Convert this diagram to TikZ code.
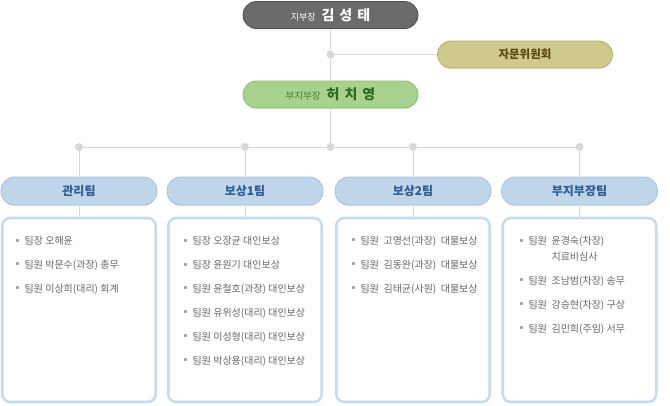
\documentclass[tikz,border=0pt]{standalone}
\usepackage{fontspec}
\setmainfont{Noto Sans CJK KR}
\usetikzlibrary{shadows}
\definecolor{linec}{HTML}{D8D8D8}
\definecolor{grayfill}{HTML}{6B6B6B}
\definecolor{graydraw}{HTML}{4E4E4E}
\definecolor{khakifill}{HTML}{CFC98B}
\definecolor{khakidraw}{HTML}{B5AE6C}
\definecolor{khakitext}{HTML}{5A4814}
\definecolor{greenfill}{HTML}{A8D08F}
\definecolor{greendraw}{HTML}{8DBB72}
\definecolor{greentext}{HTML}{2F6A1E}
\definecolor{greensmall}{HTML}{44802C}
\definecolor{teamfill}{HTML}{BED5EA}
\definecolor{teamdraw}{HTML}{A6C2DD}
\definecolor{teamtext}{HTML}{2E5C93}
\definecolor{boxc}{HTML}{C6DBEE}
\definecolor{itemc}{HTML}{666666}
\definecolor{bulc}{HTML}{AAAAAA}
\newcommand{\bul}{\textcolor{bulc}{\rule[2.8pt]{3pt}{3pt}}\hspace{5.5pt}}
\begin{document}
\begin{tikzpicture}[x=1pt,y=-1pt,
  pill/.style={rounded corners=13.5pt, minimum height=27pt, inner sep=0pt, line width=0.8pt,
     drop shadow={shadow xshift=0pt, shadow yshift=-1pt, opacity=0.18}},
  graypill/.style={pill, fill=grayfill, draw=graydraw, minimum width=175pt, text=white},
  khakipill/.style={pill, fill=khakifill, draw=khakidraw, minimum width=175pt, text=khakitext},
  greenpill/.style={pill, fill=greenfill, draw=greendraw, minimum width=175pt, text=greentext},
  teampill/.style={pill, fill=teamfill, draw=teamdraw, minimum width=156pt, minimum height=28pt,
     text=teamtext, font=\fontsize{12}{14}\selectfont\bfseries},
  teambox/.style={draw=boxc, line width=2.6pt, rounded corners=8pt, fill=white,
     minimum width=153.5pt, minimum height=184pt, inner sep=0pt},
  conn/.style={draw=linec, line width=1pt},
  dot/.style={fill=linec},
  item/.style={anchor=west, inner sep=0pt, text=itemc, font=\fontsize{10}{16}\selectfont, align=left}
]
\useasboundingbox (0,0) rectangle (670,405);

% top
\node[graypill] (jibu) at (330.5,15) {{\fontsize{9}{10}\selectfont 지부장}\hspace{6pt}{\fontsize{14}{16}\selectfont\bfseries 김\hspace{5pt}성\hspace{5pt}태}};
\node[khakipill] (jamun) at (525,54.5) {\fontsize{11.5}{13}\selectfont\bfseries 자문위원회};
\node[greenpill] (bubu) at (330.5,94.5) {{\fontsize{9.5}{10}\selectfont\color{greensmall} 부지부장}\hspace{6pt}{\fontsize{14}{16}\selectfont\bfseries 허\hspace{5pt}치\hspace{5pt}영}};

\coordinate (j1) at (330.5,54.5);
\coordinate (hub) at (330.5,147);

% teams
\node[teampill] (t1) at (79,191) {관리팀};
\node[teampill] (t2) at (245,191) {보상1팀};
\node[teampill] (t3) at (413,191) {보상2팀};
\node[teampill] (t4) at (579.5,191) {부지부장팀};

\node[teambox] (b1) at (79,310) {};
\node[teambox] (b2) at (245,310) {};
\node[teambox] (b3) at (413,310) {};
\node[teambox] (b4) at (579.5,310) {};

\coordinate (d1) at (t1 |- hub);
\coordinate (d2) at (t2 |- hub);
\coordinate (d3) at (t3 |- hub);
\coordinate (d4) at (t4 |- hub);

% connectors
\draw[conn] (jibu.south) -- (bubu.north);
\draw[conn] (j1) -- (jamun.west);
\draw[conn] (bubu.south) -- (hub);
\draw[conn] (d1) -- (d4);
\draw[conn] (d1) -- (t1.north);
\draw[conn] (d2) -- (t2.north);
\draw[conn] (d3) -- (t3.north);
\draw[conn] (d4) -- (t4.north);
\draw[conn] (t1.south) -- (b1.north);
\draw[conn] (t2.south) -- (b2.north);
\draw[conn] (t3.south) -- (b3.north);
\draw[conn] (t4.south) -- (b4.north);
\foreach \c in {j1,hub,d1,d2,d3,d4} \fill[dot] (\c) circle (4pt);

% items
\node[item] (a1) at (16,241) {\bul 팀장 오해윤};
\node[item] (a2) at (16,265) {\bul 팀원 박문수(과장) 총무};
\node[item] (a3) at (16,289) {\bul 팀원 이상희(대리) 회계};

\node[item] (c1) at (184,241) {\bul 팀장 오장균 대인보상};
\node[item] (c2) at (184,265) {\bul 팀장 윤원기 대인보상};
\node[item] (c3) at (184,289) {\bul 팀원 윤철호(과장) 대인보상};
\node[item] (c4) at (184,313) {\bul 팀원 유위성(대리) 대인보상};
\node[item] (c5) at (184,337) {\bul 팀원 이성형(대리) 대인보상};
\node[item] (c6) at (184,361) {\bul 팀원 박상용(대리) 대인보상};

\node[item] (e1) at (352,241) {\bul 팀원\ \ 고영선(과장)\ \ 대물보상};
\node[item] (e2) at (352,265) {\bul 팀원\ \ 김동완(과장)\ \ 대물보상};
\node[item] (e3) at (352,289) {\bul 팀원\ \ 김태균(사원)\ \ 대물보상};

\node[item] (f1) at (520,249) {\bul 팀원\ \ 윤경숙(차장)\\\phantom{\bul 팀원\ \ }치료비심사};
\node[item] (f2) at (520,281) {\bul 팀원\ \ 조남범(차장)\ 송무};
\node[item] (f3) at (520,305) {\bul 팀원\ \ 강승현(차장)\ 구상};
\node[item] (f4) at (520,329) {\bul 팀원\ \ 김민희(주임)\ 서무};
\end{tikzpicture}
\end{document}
